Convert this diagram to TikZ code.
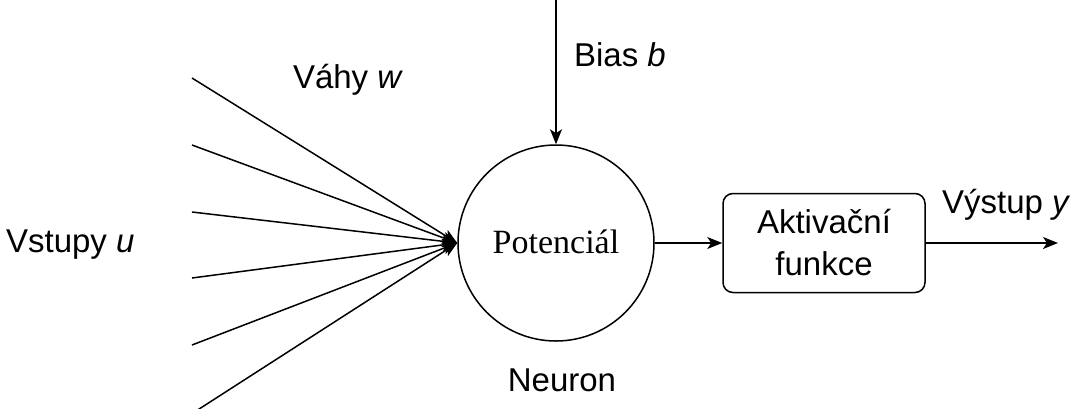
\documentclass[tikz,border=0pt]{standalone}
\usepackage{fontspec}
\setmainfont{Liberation Sans}
\newfontfamily\potfont{Liberation Serif}
\usetikzlibrary{arrows.meta}

\begin{document}
\begin{tikzpicture}[x=1pt,y=-1pt,line width=1.5pt,
		every node/.style={font=\fontsize{33}{40}\selectfont},
		arr/.style={-{Stealth[length=15pt,width=12pt,inset=4pt]}}]
	\useasboundingbox (0,0) rectangle (1077,408);
	% neuron and the box after it
	\node[draw,circle,minimum size=196pt,inner sep=0pt](neuron) at (556,243){};
	\node[font=\potfont\fontsize{34}{40}\selectfont] (pot) at (556,242){Potenciál};
	\node[draw,rounded corners=10pt,minimum width=202pt,minimum height=99pt,align=center,
		font=\fontsize{33}{42}\selectfont](akt) at (824,243){Aktivační\\funkce};
	% inputs
	\foreach \i/\y/\x in {0/78/192,1/145/192,2/212/192,3/278/192,4/345/192,5/411/196}{
		\coordinate(in\i) at (\x,\y);
		\draw[arr](in\i) -- (neuron.west);
	}
	\coordinate(bias) at (556,0);
	\draw[arr](bias) -- (neuron.north);
	\draw[arr](neuron.east) -- (akt.west);
	\coordinate(out) at (1058,243);
	\draw[arr](akt.east) -- (out);
	% labels
	\node[anchor=west](vstupy) at (2,245){Vstupy \textit{u}};
	\node(vahy) at (348,80){Váhy \textit{w}};
	\node[anchor=west](biaslbl) at (570,55){Bias \textit{b}};
	\node(neuronlbl) at (562,380){Neuron};
	\node[anchor=west](vystup) at (938,205){Výstup \textit{y}};
\end{tikzpicture}
\end{document}
